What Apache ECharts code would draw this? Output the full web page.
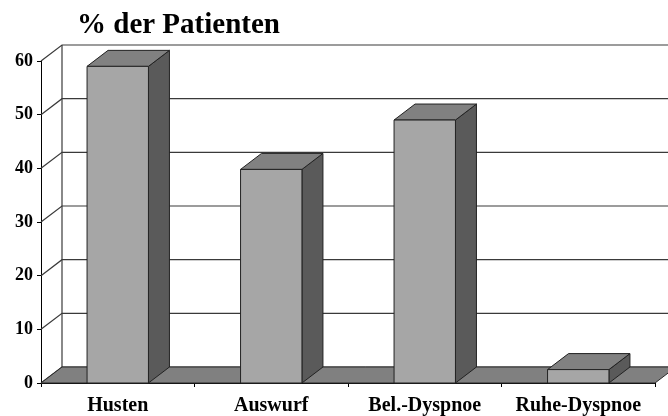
<!DOCTYPE html>
<html>
<head>
<meta charset="utf-8">
<script src="https://cdn.jsdelivr.net/npm/echarts@6/dist/echarts.min.js"></script>
<style>html,body{margin:0;padding:0;background:#fff}#c{width:668px;height:416px}</style>
</head>
<body>
<div id="c"></div>
<script>
const titleText = '% der Patienten';
const categories = ['Husten', 'Auswurf', 'Bel.-Dyspnoe', 'Ruhe-Dyspnoe'];
const values = [59, 39.8, 49, 2.5];
const yTicks = [0, 10, 20, 30, 40, 50, 60];

const DX = 21, DY = -16;
const FONT = '"Liberation Serif", "Times New Roman", serif';

const chart = echarts.init(document.getElementById('c'), null, {renderer: 'canvas'});

function wallItem(params, api) {
  const v = api.value(1);
  const band = api.size([1, 0])[0];
  const pl = api.coord([0, v]);
  const pr = api.coord([categories.length - 1, v]);
  const xl = pl[0] - band / 2;
  const xr = pr[0] + band / 2;
  const y = pl[1];
  const style = {stroke: '#3a3a3a', lineWidth: 1.2, fill: null};
  const children = [{
    type: 'polyline',
    shape: {points: [[xl, y], [xl + DX, y + DY], [xr + DX + 40, y + DY]]},
    style: style
  }];
  if (params.dataIndex === yTicks.length - 1) {
    const y0 = api.coord([0, 0])[1];
    children.push({
      type: 'line',
      shape: {x1: xl + DX, y1: y + DY, x2: xl + DX, y2: y0 + DY},
      style: style
    });
  }
  return {type: 'group', children: children};
}

function floorItem(params, api) {
  const band = api.size([1, 0])[0];
  const pl = api.coord([0, 0]);
  const pr = api.coord([categories.length - 1, 0]);
  const xl = pl[0] - band / 2;
  const xr = pr[0] + band / 2;
  const y = pl[1];
  return {
    type: 'polygon',
    shape: {points: [[xl, y], [xr, y], [xr + DX, y + DY], [xl + DX, y + DY]]},
    style: {fill: '#808080', stroke: '#2a2a2a', lineWidth: 1}
  };
}

function barItem(params, api) {
  const idx = api.value(0);
  const band = api.size([1, 0])[0];
  const top = api.coord([idx, api.value(1)]);
  const base = api.coord([idx, 0]);
  const w = band * 0.4;
  const x0 = top[0] - w / 2, x1 = top[0] + w / 2;
  const yt = top[1], yb = base[1];
  const stroke = {stroke: '#222', lineWidth: 1};
  return {
    type: 'group',
    children: [
      {type: 'polygon', shape: {points: [[x1, yt], [x1 + DX, yt + DY], [x1 + DX, yb + DY], [x1, yb]]},
       style: Object.assign({fill: '#5a5a5a'}, stroke)},
      {type: 'polygon', shape: {points: [[x0, yt], [x1, yt], [x1 + DX, yt + DY], [x0 + DX, yt + DY]]},
       style: Object.assign({fill: '#818181'}, stroke)},
      {type: 'rect', shape: {x: x0, y: yt, width: w, height: yb - yt},
       style: Object.assign({fill: '#a6a6a6'}, stroke)}
    ]
  };
}

chart.setOption({
  animation: false,
  backgroundColor: '#fff',
  title: {
    text: titleText,
    left: 77, top: 11, padding: 0,
    textStyle: {fontFamily: FONT, fontSize: 29, fontWeight: 'bold', color: '#000'}
  },
  grid: {left: 41, right: 13, top: 61, bottom: 32, containLabel: false},
  xAxis: {
    type: 'category',
    data: categories,
    boundaryGap: true,
    axisLine: {show: true, lineStyle: {color: '#000', width: 1}},
    axisTick: {show: true, length: 4, interval: 0, lineStyle: {color: '#000'}},
    axisLabel: {interval: 0, hideOverlap: false, fontFamily: FONT, fontSize: 20, fontWeight: 'bold', color: '#000', margin: 13},
    splitLine: {show: false}
  },
  yAxis: {
    type: 'value',
    min: 0, max: 60, interval: 10,
    axisLine: {show: true, lineStyle: {color: '#000', width: 1}},
    axisTick: {show: true, length: 4, lineStyle: {color: '#000'}},
    axisLabel: {fontFamily: FONT, fontSize: 18, fontWeight: 'bold', color: '#000', margin: 8},
    splitLine: {show: false}
  },
  series: [
    {type: 'custom', renderItem: wallItem, clip: false, z: 1, silent: true,
     data: yTicks.map(t => [0, t])},
    {type: 'custom', renderItem: floorItem, clip: false, z: 2, silent: true,
     data: [[0, 0]]},
    {type: 'custom', renderItem: barItem, clip: false, z: 3,
     data: values.map((v, i) => [i, v])}
  ]
});
</script>
</body>
</html>
